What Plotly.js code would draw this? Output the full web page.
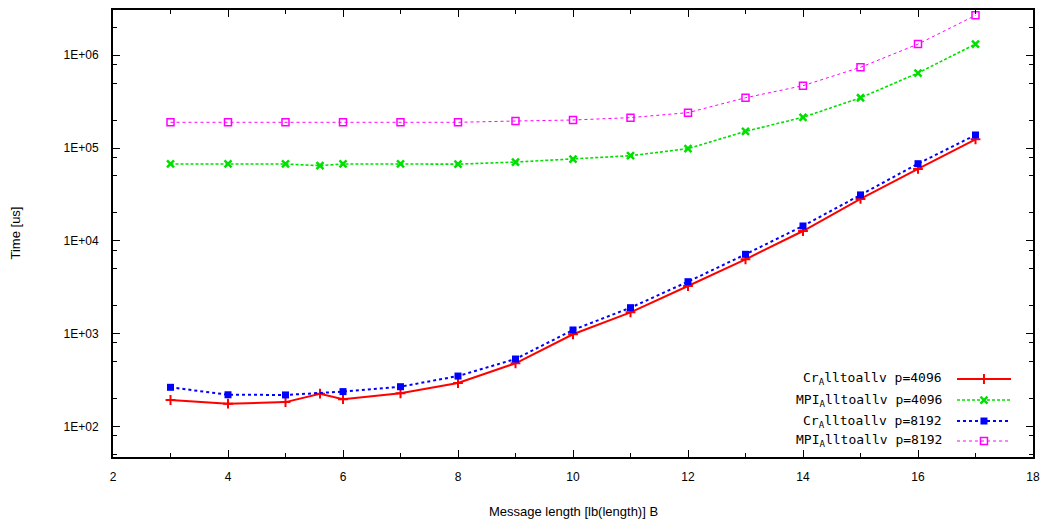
<!DOCTYPE html>
<html>
<head>
<meta charset="utf-8">
<script src="https://cdn.plot.ly/plotly-3.0.1.min.js"></script>
<style>html,body{margin:0;padding:0;background:#fff;}#chart{width:1043px;height:522px;}</style>
</head>
<body>
<div id="chart"></div>
<script>
// Data (x = lb(message length), y = time in us)
const xCr4096 = [3, 4, 5, 5.6, 6, 7, 8, 9, 10, 11, 12, 13, 14, 15, 16, 17];
const yCr4096 = [195, 178, 185, 228, 199, 230, 297, 484, 993, 1710, 3280, 6350, 12800, 28300, 59500, 124000];

const xMpi4096 = [3, 4, 5, 5.6, 6, 7, 8, 9, 10, 11, 12, 13, 14, 15, 16, 17];
const yMpi4096 = [67300, 67300, 67300, 64600, 67300, 67300, 67000, 70600, 76000, 82600, 98400, 151000, 214000, 347000, 640000, 1310000];

const xCr8192 = [3, 4, 5, 6, 7, 8, 9, 10, 11, 12, 13, 14, 15, 16, 17];
const yCr8192 = [267, 222, 221, 240, 271, 353, 538, 1104, 1918, 3650, 7190, 14500, 31300, 67800, 138000];

const xMpi8192 = [3, 4, 5, 6, 7, 8, 9, 10, 11, 12, 13, 14, 15, 16, 17];
const yMpi8192 = [189000, 189000, 189000, 189000, 189000, 189000, 195000, 200000, 212000, 240000, 347000, 468000, 738000, 1310000, 2670000];

const seriesNames = ["Cr<sub>A</sub>lltoallv p=4096", "MPI<sub>A</sub>lltoallv p=4096",
                     "Cr<sub>A</sub>lltoallv p=8192", "MPI<sub>A</sub>lltoallv p=8192"];

const yTickVals = [100, 1000, 10000, 100000, 1000000];
const yTickText = ["1E+02", "1E+03", "1E+04", "1E+05", "1E+06"];
const xTickVals = [2, 4, 6, 8, 10, 12, 14, 16, 18];

const styles = [
  {color: '#ff0000', width: 2, dash: 'solid', symbol: 'cross-thin', size: 7, mline: 2},
  {color: '#00e000', width: 1.6, dash: '3px,2px', symbol: 'x-thin', size: 7, mline: 2.5},
  {color: '#0000ff', width: 2, dash: 'dot', symbol: 'square', size: 7, mline: 0},
  {color: '#ff00ff', width: 1, dash: 'dot', symbol: 'square-open', size: 7, mline: 1.5}
];
const xs = [xCr4096, xMpi4096, xCr8192, xMpi8192];
const ys = [yCr4096, yMpi4096, yCr8192, yMpi8192];

const traces = [];
for (let i = 0; i < 4; i++) {
  const s = styles[i];
  traces.push({
    x: xs[i], y: ys[i], type: 'scatter', mode: 'lines+markers', name: seriesNames[i],
    showlegend: false,
    line: {color: s.color, width: s.width, dash: s.dash},
    marker: {symbol: s.symbol, size: s.size, color: s.color, line: {color: s.color, width: s.mline}}
  });
}

// Custom gnuplot-style legend (key) samples on an overlay 0..1 axis
const keyLineX0 = 0.9174, keyLineX1 = 0.9761, keyMarkX = 0.9467, keyTextX = 0.9033;
const keyRowsY = [0.1745, 0.1275, 0.0805, 0.0358];
const annotations = [];
for (let i = 0; i < 4; i++) {
  const s = styles[i];
  traces.push({
    x: [keyLineX0, keyLineX1], y: [keyRowsY[i], keyRowsY[i]], xaxis: 'x2', yaxis: 'y2',
    type: 'scatter', mode: 'lines', showlegend: false, hoverinfo: 'skip',
    line: {color: s.color, width: s.width, dash: s.dash}
  });
  traces.push({
    x: [keyMarkX], y: [keyRowsY[i]], xaxis: 'x2', yaxis: 'y2',
    type: 'scatter', mode: 'markers', showlegend: false, hoverinfo: 'skip',
    marker: {symbol: s.symbol, size: s.size, color: s.color, line: {color: s.color, width: s.mline}}
  });
  annotations.push({
    xref: 'paper', yref: 'paper', x: keyTextX, y: keyRowsY[i], xanchor: 'right', yanchor: 'middle',
    text: seriesNames[i], showarrow: false,
    font: {family: 'DejaVu Sans Mono', size: 13, color: '#000'}
  });
}
annotations.push({
  xref: 'paper', yref: 'paper', x: (15 - 113) / 920, y: 0.5, xanchor: 'center', yanchor: 'middle',
  text: 'Time [us]', textangle: -90, showarrow: false,
  font: {family: 'Liberation Sans, Arial, sans-serif', size: 13, color: '#000'}
});
annotations.push({
  xref: 'paper', yref: 'paper', x: 0.5, y: -(511 - 457) / 447, xanchor: 'center', yanchor: 'middle',
  text: 'Message length [lb(length)] B', showarrow: false,
  font: {family: 'Liberation Sans, Arial, sans-serif', size: 13, color: '#000'}
});

const yMinor = [];
for (let d = 1; d <= 6; d++) {
  [2, 5, 8].forEach(m => yMinor.push(m * Math.pow(10, d)));
}

const layout = {
  width: 1043, height: 522,
  margin: {l: 113, r: 10, t: 10, b: 65},
  paper_bgcolor: '#fff', plot_bgcolor: '#fff',
  showlegend: false,
  font: {family: 'Liberation Sans, Arial, sans-serif', size: 12, color: '#000'},
  xaxis: {
    range: [2, 18], tickmode: 'array', tickvals: xTickVals, ticktext: xTickVals.map(String),
    ticks: 'inside', ticklen: 7, tickwidth: 1, tickcolor: '#000',
    showline: true, linecolor: '#000', linewidth: 2, mirror: 'ticks',
    showgrid: false, zeroline: false, ticklabelstandoff: 8,
    minor: {tickmode: 'array', tickvals: [3, 5, 7, 9, 11, 13, 15, 17], ticks: 'inside', ticklen: 4, tickcolor: '#000', showgrid: false},
    tickfont: {size: 12}
  },
  yaxis: {
    type: 'log', range: [1.677, 6.484], tickmode: 'array', tickvals: yTickVals, ticktext: yTickText,
    ticks: 'inside', ticklen: 7, tickwidth: 1, tickcolor: '#000',
    showline: true, linecolor: '#000', linewidth: 2, mirror: 'ticks',
    showgrid: false, zeroline: false, ticklabelstandoff: 10,
    minor: {tickmode: 'array', tickvals: yMinor, ticks: 'inside', ticklen: 4, tickcolor: '#000', showgrid: false},
    tickfont: {size: 12}
  },
  xaxis2: {overlaying: 'x', range: [0, 1], visible: false, fixedrange: true},
  yaxis2: {overlaying: 'y', range: [0, 1], visible: false, fixedrange: true},
  annotations: annotations
};

Plotly.newPlot('chart', traces, layout, {displayModeBar: false, staticPlot: true});
</script>
</body>
</html>
